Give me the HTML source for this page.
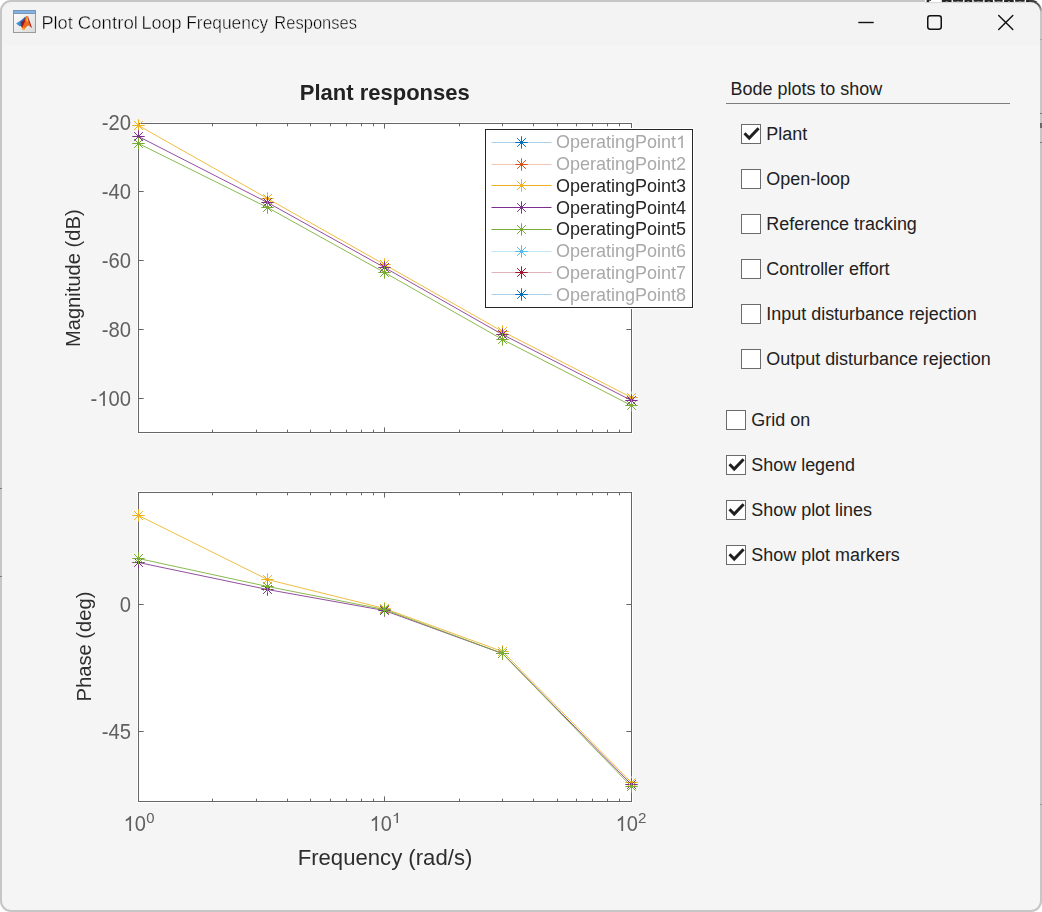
<!DOCTYPE html>
<html><head><meta charset="utf-8"><title>Plot Control Loop Frequency Responses</title>
<style>
html,body{margin:0;padding:0;background:#ffffff;overflow:hidden}
body{width:1042px;height:912px;position:relative;font-family:"Liberation Sans", sans-serif}
svg{position:absolute;left:0;top:0;display:block}
svg text{font-family:"Liberation Sans", sans-serif;white-space:pre}
#gfx{position:absolute;left:0;top:0;width:1042px;height:912px;will-change:transform}
</style></head><body>
<svg width="1042" height="912" viewBox="0 0 1042 912">
<rect x="0" y="0" width="1042" height="912" fill="#ffffff"/>
<defs><clipPath id="win"><rect x="0" y="0" width="1042" height="912" rx="11" ry="11"/></clipPath></defs>
<g clip-path="url(#win)">
<rect x="0" y="0" width="1042" height="912" fill="#f5f5f5"/>
<rect x="0" y="0" width="1042" height="45" fill="#f3f3f3"/>
</g>
<rect x="1" y="1" width="1040" height="910" rx="10" ry="10" fill="none" stroke="#c6c6c6" stroke-width="2"/>
<g clip-path="url(#win)">
<rect x="925" y="0" width="117" height="2.2" fill="#ffffff"/>
<rect x="925" y="2.2" width="108" height="0.9" fill="#d4d4d4"/>
<rect x="926.6" y="0" width="2.6" height="2.1" fill="#262626"/>
<rect x="929.2" y="0" width="1.8" height="0.9" fill="#3a3a3a"/>
<rect x="941.8" y="0" width="9.8" height="2.0" rx="0.6" fill="#262626"/>
<rect x="945.7" y="1.1" width="2" height="1.1" fill="#9a9a9a"/>
<rect x="952.8" y="0" width="10.4" height="1.7" rx="0.6" fill="#262626"/>
<rect x="957.0" y="1.1" width="2" height="1.1" fill="#9a9a9a"/>
<rect x="964.4" y="0" width="7.9" height="2.0" rx="0.6" fill="#262626"/>
<rect x="967.3" y="1.1" width="2" height="1.1" fill="#9a9a9a"/>
<rect x="973.5" y="0" width="9.8" height="1.7" rx="0.6" fill="#262626"/>
<rect x="977.4" y="1.1" width="2" height="1.1" fill="#9a9a9a"/>
<rect x="984.5" y="0" width="8.5" height="2.0" rx="0.6" fill="#262626"/>
<rect x="987.8" y="1.1" width="2" height="1.1" fill="#9a9a9a"/>
<rect x="994.3" y="0" width="8.5" height="1.7" rx="0.6" fill="#262626"/>
<rect x="997.5" y="1.1" width="2" height="1.1" fill="#9a9a9a"/>
<rect x="1004" y="0" width="9.8" height="2.0" rx="0.6" fill="#262626"/>
<rect x="1007.9" y="1.1" width="2" height="1.1" fill="#9a9a9a"/>
<rect x="1015" y="0" width="9.8" height="1.7" rx="0.6" fill="#262626"/>
<rect x="1018.9" y="1.1" width="2" height="1.1" fill="#9a9a9a"/>
<rect x="1026" y="0" width="12.0" height="2.0" rx="0.6" fill="#262626"/>
<rect x="1031.0" y="1.1" width="2" height="1.1" fill="#9a9a9a"/>
</g>
<defs><linearGradient id="arcg" x1="0" y1="0" x2="0" y2="1"><stop offset="0" stop-color="#3c3c3c"/><stop offset="0.55" stop-color="#6a6a6a"/><stop offset="1" stop-color="#c6c6c6"/></linearGradient></defs>
<path d="M1029 1 A11 11 0 0 1 1041 12" fill="none" stroke="url(#arcg)" stroke-width="1.8"/>
<rect x="0" y="488" width="2" height="1" fill="#7a7a7a"/>
<rect x="0" y="576" width="2" height="1" fill="#7a7a7a"/>
<rect x="1040" y="113" width="2" height="1" fill="#7a7a7a"/>
<rect x="1040" y="142" width="2" height="1" fill="#7a7a7a"/>
<rect x="1040" y="39" width="2" height="1" fill="#a8a8a8"/>
<rect x="1040" y="804" width="2" height="1" fill="#9a9a9a"/>
<rect x="1040" y="123" width="2" height="5" fill="#6a6a6a"/>
<text x="730.6" y="95.1" font-size="17.95" fill="#212121">Bode plots to show</text>
<rect x="726" y="103" width="284" height="1" fill="#7d7d7d"/>
<rect x="741.5" y="124.5" width="19" height="19" fill="#ffffff" stroke="#6b6b6b" stroke-width="1"/>
<path d="M744.5 133.3 L749.2 138.0 L758.6 128.2" stroke="#1f1f1f" stroke-width="3.0" fill="none" stroke-linejoin="miter"/>
<text x="766.3" y="139.9" font-size="17.95" fill="#212121">Plant</text>
<rect x="741.5" y="169.5" width="19" height="19" fill="#ffffff" stroke="#6b6b6b" stroke-width="1"/>
<text x="766.3" y="184.9" font-size="17.95" fill="#212121">Open-loop</text>
<rect x="741.5" y="214.5" width="19" height="19" fill="#ffffff" stroke="#6b6b6b" stroke-width="1"/>
<text x="766.3" y="229.9" font-size="17.95" fill="#212121">Reference tracking</text>
<rect x="741.5" y="259.5" width="19" height="19" fill="#ffffff" stroke="#6b6b6b" stroke-width="1"/>
<text x="766.3" y="274.9" font-size="17.95" fill="#212121">Controller effort</text>
<rect x="741.5" y="304.5" width="19" height="19" fill="#ffffff" stroke="#6b6b6b" stroke-width="1"/>
<text x="766.3" y="319.9" font-size="17.95" fill="#212121">Input disturbance rejection</text>
<rect x="741.5" y="349.5" width="19" height="19" fill="#ffffff" stroke="#6b6b6b" stroke-width="1"/>
<text x="766.3" y="364.9" font-size="17.95" fill="#212121">Output disturbance rejection</text>
<rect x="726.5" y="410.5" width="19" height="19" fill="#ffffff" stroke="#6b6b6b" stroke-width="1"/>
<text x="751.3" y="425.9" font-size="17.95" fill="#212121">Grid on</text>
<rect x="726.5" y="455.5" width="19" height="19" fill="#ffffff" stroke="#6b6b6b" stroke-width="1"/>
<path d="M729.5 464.3 L734.2 469.0 L743.6 459.2" stroke="#1f1f1f" stroke-width="3.0" fill="none" stroke-linejoin="miter"/>
<text x="751.3" y="470.9" font-size="17.95" fill="#212121">Show legend</text>
<rect x="726.5" y="500.5" width="19" height="19" fill="#ffffff" stroke="#6b6b6b" stroke-width="1"/>
<path d="M729.5 509.3 L734.2 514.0 L743.6 504.2" stroke="#1f1f1f" stroke-width="3.0" fill="none" stroke-linejoin="miter"/>
<text x="751.3" y="515.9" font-size="17.95" fill="#212121">Show plot lines</text>
<rect x="726.5" y="545.5" width="19" height="19" fill="#ffffff" stroke="#6b6b6b" stroke-width="1"/>
<path d="M729.5 554.3 L734.2 559.0 L743.6 549.2" stroke="#1f1f1f" stroke-width="3.0" fill="none" stroke-linejoin="miter"/>
<text x="751.3" y="560.9" font-size="17.95" fill="#212121">Show plot markers</text>
</svg>
<div id="gfx">
<svg width="1042" height="912" viewBox="0 0 1042 912">
<defs><linearGradient id="icg" x1="0" y1="0" x2="1" y2="1"><stop offset="0" stop-color="#ffffff"/><stop offset="1" stop-color="#d9d9d9"/></linearGradient></defs>
<rect x="13.5" y="10.5" width="22" height="22" fill="url(#icg)" stroke="#9a9a9a" stroke-width="1"/>
<rect x="13.5" y="10.5" width="22" height="3" fill="#7fb2e5" stroke="#7d93b5" stroke-width="1"/>
<defs><linearGradient id="blu" x1="0" y1="0" x2="1" y2="0.3"><stop offset="0" stop-color="#58b0ea"/><stop offset="1" stop-color="#2a62ae"/></linearGradient></defs>
<path d="M16 23.4 L21.2 20.2 L25.6 16.2 L24.4 21.5 L21.8 25.8 L19.7 26.3 Z" fill="url(#blu)"/>
<path d="M21.5 22.3 L24.6 19.2 L26.3 16.2 L26.6 15.9 L25.2 22 L23 27.5 L22 28 L21 26 Z" fill="#a3181a"/>
<path d="M20.6 21.4 L22.4 20.6 L22.2 23.6 L21 24.2 Z" fill="#2d3c78" opacity="0.75"/>
<path d="M22 27.6 L24.6 23 L26.2 16.2 L27 15.7 L28.6 20 L31.7 27.7 L30.2 26.6 L28.2 25.4 L26.2 27 L24.2 30 L22.8 30 Z" fill="#ec6a1e"/>
<path d="M26.6 17.2 L27.6 17.6 L27.9 21.6 L27 22 L26.4 20 Z" fill="#f8c81c"/>
<path d="M22.5 28.2 L25 27.8 L24 30.2 L22.9 30 Z" fill="#f6b91b"/>
<path d="M27.4 16 L28 16.5 L30 22 L31.9 27.6 L31 27.4 L29 22.5 Z" fill="#b0201c"/>
<g transform="translate(41.39 28.80) scale(1.0141 1.0)" fill="#000000" stroke="#f3f3f3" stroke-width="0.4">
<text x="0.000" y="0" font-size="18">Plot</text>
</g>
<g transform="translate(77.77 28.80) scale(1.0369 1.0)" fill="#000000" stroke="#f3f3f3" stroke-width="0.4">
<text x="0.000" y="0" font-size="18">Control</text>
</g>
<g transform="translate(141.41 28.80) scale(1.0053 1.0)" fill="#000000" stroke="#f3f3f3" stroke-width="0.4">
<text x="0.000" y="0" font-size="18">Loop</text>
</g>
<g transform="translate(186.27 28.80) scale(0.9650 1.0)" fill="#000000" stroke="#f3f3f3" stroke-width="0.4">
<text x="0.000" y="0" font-size="18">Frequency</text>
</g>
<g transform="translate(274.34 28.80) scale(0.9178 1.0)" fill="#000000" stroke="#f3f3f3" stroke-width="0.4">
<text x="0.000" y="0" font-size="18">Responses</text>
</g>
<path d="M858.3 22.5 H873.7" stroke="#111" stroke-width="1.4" fill="none"/>
<rect x="927.75" y="15.75" width="13.5" height="13.5" rx="2.4" ry="2.4" stroke="#111" stroke-width="1.5" fill="none"/>
<path d="M998.7 15.4 L1012.8 29.6 M1012.8 15.4 L998.7 29.6" stroke="#111" stroke-width="1.4" fill="none" stroke-linecap="round"/>
<rect x="137" y="122" width="496" height="312" fill="#ffffff"/>
<path d="M212.5 432 v-2.3 M212.5 124 v2.3 M256.5 432 v-2.3 M256.5 124 v2.3 M287.5 432 v-2.3 M287.5 124 v2.3 M310.5 432 v-2.3 M310.5 124 v2.3 M330.5 432 v-2.3 M330.5 124 v2.3 M346.5 432 v-2.3 M346.5 124 v2.3 M361.5 432 v-2.3 M361.5 124 v2.3 M373.5 432 v-2.3 M373.5 124 v2.3 M459.5 432 v-2.3 M459.5 124 v2.3 M502.5 432 v-2.3 M502.5 124 v2.3 M533.5 432 v-2.3 M533.5 124 v2.3 M557.5 432 v-2.3 M557.5 124 v2.3 M576.5 432 v-2.3 M576.5 124 v2.3 M592.5 432 v-2.3 M592.5 124 v2.3 M607.5 432 v-2.3 M607.5 124 v2.3 M619.5 432 v-2.3 M619.5 124 v2.3 M384.5 432 v-4.6 M384.5 124 v4.6 M139 191.5 h4.7 M631 191.5 h-4.7 M139 260.5 h4.7 M631 260.5 h-4.7 M139 329.5 h4.7 M631 329.5 h-4.7 M139 398.5 h4.7 M631 398.5 h-4.7" stroke="#666666" stroke-width="1" fill="none"/>
<rect x="138.5" y="123.5" width="493" height="309" fill="none" stroke="#666666" stroke-width="1"/>
<polyline points="138.50,125.50 267.50,198.50 384.50,264.50 502.50,331.50 631.50,397.50" fill="none" stroke="#EDB120" stroke-width="0.85" stroke-linejoin="round"/>
<path d="M132.30 125.50 H144.70 M138.50 119.30 V131.70 M134.10 121.10 L142.90 129.90 M134.10 129.90 L142.90 121.10" stroke="#EDB120" stroke-width="1" fill="none"/>
<path d="M261.30 198.50 H273.70 M267.50 192.30 V204.70 M263.10 194.10 L271.90 202.90 M263.10 202.90 L271.90 194.10" stroke="#EDB120" stroke-width="1" fill="none"/>
<path d="M378.30 264.50 H390.70 M384.50 258.30 V270.70 M380.10 260.10 L388.90 268.90 M380.10 268.90 L388.90 260.10" stroke="#EDB120" stroke-width="1" fill="none"/>
<path d="M496.30 331.50 H508.70 M502.50 325.30 V337.70 M498.10 327.10 L506.90 335.90 M498.10 335.90 L506.90 327.10" stroke="#EDB120" stroke-width="1" fill="none"/>
<path d="M625.30 397.50 H637.70 M631.50 391.30 V403.70 M627.10 393.10 L635.90 401.90 M627.10 401.90 L635.90 393.10" stroke="#EDB120" stroke-width="1" fill="none"/>
<polyline points="138.50,136.50 267.50,202.50 384.50,267.50 502.50,334.50 631.50,400.50" fill="none" stroke="#7E2F8E" stroke-width="0.85" stroke-linejoin="round"/>
<path d="M132.30 136.50 H144.70 M138.50 130.30 V142.70 M134.10 132.10 L142.90 140.90 M134.10 140.90 L142.90 132.10" stroke="#7E2F8E" stroke-width="1" fill="none"/>
<path d="M261.30 202.50 H273.70 M267.50 196.30 V208.70 M263.10 198.10 L271.90 206.90 M263.10 206.90 L271.90 198.10" stroke="#7E2F8E" stroke-width="1" fill="none"/>
<path d="M378.30 267.50 H390.70 M384.50 261.30 V273.70 M380.10 263.10 L388.90 271.90 M380.10 271.90 L388.90 263.10" stroke="#7E2F8E" stroke-width="1" fill="none"/>
<path d="M496.30 334.50 H508.70 M502.50 328.30 V340.70 M498.10 330.10 L506.90 338.90 M498.10 338.90 L506.90 330.10" stroke="#7E2F8E" stroke-width="1" fill="none"/>
<path d="M625.30 400.50 H637.70 M631.50 394.30 V406.70 M627.10 396.10 L635.90 404.90 M627.10 404.90 L635.90 396.10" stroke="#7E2F8E" stroke-width="1" fill="none"/>
<polyline points="138.50,143.50 267.50,207.50 384.50,272.50 502.50,339.50 631.50,405.50" fill="none" stroke="#77AC30" stroke-width="0.85" stroke-linejoin="round"/>
<path d="M132.30 143.50 H144.70 M138.50 137.30 V149.70 M134.10 139.10 L142.90 147.90 M134.10 147.90 L142.90 139.10" stroke="#77AC30" stroke-width="1" fill="none"/>
<path d="M261.30 207.50 H273.70 M267.50 201.30 V213.70 M263.10 203.10 L271.90 211.90 M263.10 211.90 L271.90 203.10" stroke="#77AC30" stroke-width="1" fill="none"/>
<path d="M378.30 272.50 H390.70 M384.50 266.30 V278.70 M380.10 268.10 L388.90 276.90 M380.10 276.90 L388.90 268.10" stroke="#77AC30" stroke-width="1" fill="none"/>
<path d="M496.30 339.50 H508.70 M502.50 333.30 V345.70 M498.10 335.10 L506.90 343.90 M498.10 343.90 L506.90 335.10" stroke="#77AC30" stroke-width="1" fill="none"/>
<path d="M625.30 405.50 H637.70 M631.50 399.30 V411.70 M627.10 401.10 L635.90 409.90 M627.10 409.90 L635.90 401.10" stroke="#77AC30" stroke-width="1" fill="none"/>
<rect x="137" y="491" width="496" height="312" fill="#ffffff"/>
<path d="M212.5 801 v-2.3 M212.5 493 v2.3 M256.5 801 v-2.3 M256.5 493 v2.3 M287.5 801 v-2.3 M287.5 493 v2.3 M310.5 801 v-2.3 M310.5 493 v2.3 M330.5 801 v-2.3 M330.5 493 v2.3 M346.5 801 v-2.3 M346.5 493 v2.3 M361.5 801 v-2.3 M361.5 493 v2.3 M373.5 801 v-2.3 M373.5 493 v2.3 M459.5 801 v-2.3 M459.5 493 v2.3 M502.5 801 v-2.3 M502.5 493 v2.3 M533.5 801 v-2.3 M533.5 493 v2.3 M557.5 801 v-2.3 M557.5 493 v2.3 M576.5 801 v-2.3 M576.5 493 v2.3 M592.5 801 v-2.3 M592.5 493 v2.3 M607.5 801 v-2.3 M607.5 493 v2.3 M619.5 801 v-2.3 M619.5 493 v2.3 M384.5 801 v-4.6 M384.5 493 v4.6 M139 604.5 h4.7 M631 604.5 h-4.7 M139 731.5 h4.7 M631 731.5 h-4.7" stroke="#666666" stroke-width="1" fill="none"/>
<rect x="138.5" y="492.5" width="493" height="309" fill="none" stroke="#666666" stroke-width="1"/>
<polyline points="138.50,515.50 267.50,579.50 384.50,608.50 502.50,651.50 631.50,782.50" fill="none" stroke="#EDB120" stroke-width="0.85" stroke-linejoin="round"/>
<path d="M132.30 515.50 H144.70 M138.50 509.30 V521.70 M134.10 511.10 L142.90 519.90 M134.10 519.90 L142.90 511.10" stroke="#EDB120" stroke-width="1" fill="none"/>
<path d="M261.30 579.50 H273.70 M267.50 573.30 V585.70 M263.10 575.10 L271.90 583.90 M263.10 583.90 L271.90 575.10" stroke="#EDB120" stroke-width="1" fill="none"/>
<path d="M378.30 608.50 H390.70 M384.50 602.30 V614.70 M380.10 604.10 L388.90 612.90 M380.10 612.90 L388.90 604.10" stroke="#EDB120" stroke-width="1" fill="none"/>
<path d="M496.30 651.50 H508.70 M502.50 645.30 V657.70 M498.10 647.10 L506.90 655.90 M498.10 655.90 L506.90 647.10" stroke="#EDB120" stroke-width="1" fill="none"/>
<path d="M625.30 782.50 H637.70 M631.50 776.30 V788.70 M627.10 778.10 L635.90 786.90 M627.10 786.90 L635.90 778.10" stroke="#EDB120" stroke-width="1" fill="none"/>
<polyline points="138.50,562.50 267.50,589.50 384.50,610.50 502.50,653.50 631.50,784.50" fill="none" stroke="#7E2F8E" stroke-width="0.85" stroke-linejoin="round"/>
<path d="M132.30 562.50 H144.70 M138.50 556.30 V568.70 M134.10 558.10 L142.90 566.90 M134.10 566.90 L142.90 558.10" stroke="#7E2F8E" stroke-width="1" fill="none"/>
<path d="M261.30 589.50 H273.70 M267.50 583.30 V595.70 M263.10 585.10 L271.90 593.90 M263.10 593.90 L271.90 585.10" stroke="#7E2F8E" stroke-width="1" fill="none"/>
<path d="M378.30 610.50 H390.70 M384.50 604.30 V616.70 M380.10 606.10 L388.90 614.90 M380.10 614.90 L388.90 606.10" stroke="#7E2F8E" stroke-width="1" fill="none"/>
<path d="M496.30 653.50 H508.70 M502.50 647.30 V659.70 M498.10 649.10 L506.90 657.90 M498.10 657.90 L506.90 649.10" stroke="#7E2F8E" stroke-width="1" fill="none"/>
<path d="M625.30 784.50 H637.70 M631.50 778.30 V790.70 M627.10 780.10 L635.90 788.90 M627.10 788.90 L635.90 780.10" stroke="#7E2F8E" stroke-width="1" fill="none"/>
<polyline points="138.50,558.50 267.50,586.50 384.50,609.50 502.50,653.50 631.50,786.50" fill="none" stroke="#77AC30" stroke-width="0.85" stroke-linejoin="round"/>
<path d="M132.30 558.50 H144.70 M138.50 552.30 V564.70 M134.10 554.10 L142.90 562.90 M134.10 562.90 L142.90 554.10" stroke="#77AC30" stroke-width="1" fill="none"/>
<path d="M261.30 586.50 H273.70 M267.50 580.30 V592.70 M263.10 582.10 L271.90 590.90 M263.10 590.90 L271.90 582.10" stroke="#77AC30" stroke-width="1" fill="none"/>
<path d="M378.30 609.50 H390.70 M384.50 603.30 V615.70 M380.10 605.10 L388.90 613.90 M380.10 613.90 L388.90 605.10" stroke="#77AC30" stroke-width="1" fill="none"/>
<path d="M496.30 653.50 H508.70 M502.50 647.30 V659.70 M498.10 649.10 L506.90 657.90 M498.10 657.90 L506.90 649.10" stroke="#77AC30" stroke-width="1" fill="none"/>
<path d="M625.30 786.50 H637.70 M631.50 780.30 V792.70 M627.10 782.10 L635.90 790.90 M627.10 790.90 L635.90 782.10" stroke="#77AC30" stroke-width="1" fill="none"/>
<g transform="translate(101.81 130.10) scale(1.0120 1.075)" fill="#606060">
<text x="0.000" y="0" font-size="20">-20</text>
</g>
<g transform="translate(101.81 199.00) scale(1.0120 1.075)" fill="#606060">
<text x="0.000" y="0" font-size="20">-40</text>
</g>
<g transform="translate(101.81 268.00) scale(1.0120 1.075)" fill="#606060">
<text x="0.000" y="0" font-size="20">-60</text>
</g>
<g transform="translate(101.81 337.00) scale(1.0120 1.075)" fill="#606060">
<text x="0.000" y="0" font-size="20">-80</text>
</g>
<g transform="translate(90.60 406.00) scale(1.0120 1.075)" fill="#606060">
<text x="0.000" y="0" font-size="20">-</text>
<path transform="translate(6.660 0) scale(0.02000 -0.01950)" d="M373 0H285V560Q253 530 202 500Q150 470 109 455V540Q183 575 238 624Q294 674 316 716H373Z"/>
<text x="17.780" y="0" font-size="20">00</text>
</g>
<g transform="translate(119.83 612.00) scale(1.0120 1.075)" fill="#606060">
<text x="0.000" y="0" font-size="20">0</text>
</g>
<g transform="translate(101.86 739.00) scale(1.0120 1.075)" fill="#606060">
<text x="0.000" y="0" font-size="20">-45</text>
</g>
<g transform="translate(123.57 830.90) scale(1.0047 1.075)" fill="#606060">
<path transform="translate(0.000 0) scale(0.02000 -0.01950)" d="M373 0H285V560Q253 530 202 500Q150 470 109 455V540Q183 575 238 624Q294 674 316 716H373Z"/>
<text x="11.120" y="0" font-size="20">0</text>
</g>
<g transform="translate(146.31 822.90) scale(1.0621 1.03)" fill="#606060">
<text x="0.000" y="0" font-size="14">0</text>
</g>
<g transform="translate(369.62 830.90) scale(1.0005 1.075)" fill="#606060">
<path transform="translate(0.000 0) scale(0.02000 -0.01950)" d="M373 0H285V560Q253 530 202 500Q150 470 109 455V540Q183 575 238 624Q294 674 316 716H373Z"/>
<text x="11.120" y="0" font-size="20">0</text>
</g>
<g transform="translate(391.78 822.90) scale(1.1905 1.03)" fill="#606060">
<path transform="translate(0.000 0) scale(0.01400 -0.01365)" d="M373 0H285V560Q253 530 202 500Q150 470 109 455V540Q183 575 238 624Q294 674 316 716H373Z"/>
</g>
<g transform="translate(615.61 830.90) scale(1.0057 1.075)" fill="#606060">
<path transform="translate(0.000 0) scale(0.02000 -0.01950)" d="M373 0H285V560Q253 530 202 500Q150 470 109 455V540Q183 575 238 624Q294 674 316 716H373Z"/>
<text x="11.120" y="0" font-size="20">0</text>
</g>
<g transform="translate(637.94 822.90) scale(1.0832 1.03)" fill="#606060">
<text x="0.000" y="0" font-size="14">2</text>
</g>
<g transform="translate(299.71 99.80) scale(1.0128 1.0)" fill="#222">
<text x="0.000" y="0" font-size="21.75" font-weight="bold">Plant responses</text>
</g>
<g transform="translate(297.67 864.60) scale(1.0178 1.0)" fill="#2e2e2e">
<text x="0.000" y="0" font-size="21.75">Frequency (rad/s)</text>
</g>
<g transform="translate(80.40 347.06) rotate(-90) scale(1.0078 1)" fill="#2e2e2e">
<text x="0.000" y="0" font-size="20">Magnitude (dB)</text>
</g>
<g transform="translate(91.20 701.46) rotate(-90) scale(1.0090 1)" fill="#2e2e2e">
<text x="0.000" y="0" font-size="20">Phase (deg)</text>
</g>
<rect x="484" y="128" width="210" height="181" fill="#ffffff"/>
<rect x="485.5" y="129.5" width="207" height="178" fill="#ffffff" stroke="#262626" stroke-width="1"/>
<path d="M491.5 142.5 H551.5" stroke="#0072BD" stroke-width="1" stroke-opacity="0.33" fill="none"/>
<path d="M515.30 142.50 H527.70 M521.50 136.30 V148.70 M517.10 138.10 L525.90 146.90 M517.10 146.90 L525.90 138.10" stroke="#0072BD" stroke-width="1" fill="none"/>
<g transform="translate(556.05 148) scale(0.9998 1)" fill="#a9a9a9">
<text x="0.000" y="0" font-size="18">OperatingPoint</text>
<path transform="translate(120.080 0) scale(0.01800 -0.01755)" d="M373 0H285V560Q253 530 202 500Q150 470 109 455V540Q183 575 238 624Q294 674 316 716H373Z"/>
</g>
<path d="M491.5 164.5 H551.5" stroke="#D95319" stroke-width="1" stroke-opacity="0.33" fill="none"/>
<path d="M515.30 164.50 H527.70 M521.50 158.30 V170.70 M517.10 160.10 L525.90 168.90 M517.10 168.90 L525.90 160.10" stroke="#D95319" stroke-width="1" fill="none"/>
<g transform="translate(556.05 170) scale(0.9998 1)" fill="#a9a9a9">
<text x="0.000" y="0" font-size="18">OperatingPoint2</text>
</g>
<path d="M491.5 185.5 H551.5" stroke="#EDB120" stroke-width="1" stroke-opacity="1" fill="none"/>
<path d="M515.30 185.50 H527.70 M521.50 179.30 V191.70 M517.10 181.10 L525.90 189.90 M517.10 189.90 L525.90 181.10" stroke="#EDB120" stroke-width="1" fill="none"/>
<g transform="translate(556.05 192) scale(0.9998 1)" fill="#262626">
<text x="0.000" y="0" font-size="18">OperatingPoint3</text>
</g>
<path d="M491.5 207.5 H551.5" stroke="#7E2F8E" stroke-width="1" stroke-opacity="1" fill="none"/>
<path d="M515.30 207.50 H527.70 M521.50 201.30 V213.70 M517.10 203.10 L525.90 211.90 M517.10 211.90 L525.90 203.10" stroke="#7E2F8E" stroke-width="1" fill="none"/>
<g transform="translate(556.05 214) scale(0.9998 1)" fill="#262626">
<text x="0.000" y="0" font-size="18">OperatingPoint4</text>
</g>
<path d="M491.5 229.5 H551.5" stroke="#77AC30" stroke-width="1" stroke-opacity="1" fill="none"/>
<path d="M515.30 229.50 H527.70 M521.50 223.30 V235.70 M517.10 225.10 L525.90 233.90 M517.10 233.90 L525.90 225.10" stroke="#77AC30" stroke-width="1" fill="none"/>
<g transform="translate(556.05 235) scale(0.9998 1)" fill="#262626">
<text x="0.000" y="0" font-size="18">OperatingPoint5</text>
</g>
<path d="M491.5 251.5 H551.5" stroke="#4DBEEE" stroke-width="1" stroke-opacity="0.33" fill="none"/>
<path d="M515.30 251.50 H527.70 M521.50 245.30 V257.70 M517.10 247.10 L525.90 255.90 M517.10 255.90 L525.90 247.10" stroke="#4DBEEE" stroke-width="1" fill="none"/>
<g transform="translate(556.05 257) scale(0.9998 1)" fill="#a9a9a9">
<text x="0.000" y="0" font-size="18">OperatingPoint6</text>
</g>
<path d="M491.5 272.5 H551.5" stroke="#A2142F" stroke-width="1" stroke-opacity="0.33" fill="none"/>
<path d="M515.30 272.50 H527.70 M521.50 266.30 V278.70 M517.10 268.10 L525.90 276.90 M517.10 276.90 L525.90 268.10" stroke="#A2142F" stroke-width="1" fill="none"/>
<g transform="translate(556.05 279) scale(0.9998 1)" fill="#a9a9a9">
<text x="0.000" y="0" font-size="18">OperatingPoint7</text>
</g>
<path d="M491.5 294.5 H551.5" stroke="#0072BD" stroke-width="1" stroke-opacity="0.33" fill="none"/>
<path d="M515.30 294.50 H527.70 M521.50 288.30 V300.70 M517.10 290.10 L525.90 298.90 M517.10 298.90 L525.90 290.10" stroke="#0072BD" stroke-width="1" fill="none"/>
<g transform="translate(556.05 301) scale(0.9998 1)" fill="#a9a9a9">
<text x="0.000" y="0" font-size="18">OperatingPoint8</text>
</g>
</svg>
</div>
</body></html>
